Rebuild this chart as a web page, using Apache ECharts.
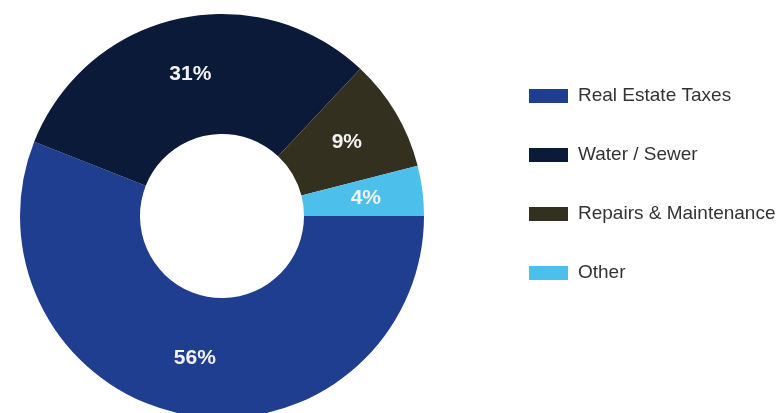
<!DOCTYPE html>
<html>
<head>
<meta charset="utf-8">
<script src="https://cdn.jsdelivr.net/npm/echarts@6/dist/echarts.min.js"></script>
<style>
  html, body { margin: 0; padding: 0; background: #ffffff; }
  #chart { width: 782px; height: 413px; }
</style>
</head>
<body>
<div id="chart"></div>
<script>
// Operating expense breakdown (share of total, %)
const categories = ['Real Estate Taxes', 'Water / Sewer', 'Repairs & Maintenance', 'Other'];
const shares = [56, 31, 9, 4];
const colors = ['#1f3e8f', '#0b1a38', '#34301f', '#4dbfeb'];

const chart = echarts.init(document.getElementById('chart'), null, { renderer: 'canvas' });

chart.setOption({
  animation: false,
  backgroundColor: '#ffffff',
  color: colors,
  legend: {
    orient: 'vertical',
    left: 524,
    top: 81,
    itemWidth: 39,
    itemHeight: 14,
    itemGap: 39,
    icon: 'rect',
    data: categories,
    textStyle: {
      fontFamily: 'Liberation Sans, Arial, sans-serif',
      fontSize: 19,
      lineHeight: 20,
      color: '#333333',
      padding: [0, 0, 0, 5]
    }
  },
  series: [{
    type: 'pie',
    center: [222, 216],
    radius: [82, 202],
    startAngle: 0,
    clockwise: true,
    avoidLabelOverlap: false,
    label: {
      show: true,
      position: 'inside',
      formatter: '{c}%',
      fontFamily: 'Liberation Sans, Arial, sans-serif',
      fontSize: 21,
      fontWeight: 'bold',
      color: '#f2f2f2'
    },
    labelLine: { show: false },
    emphasis: { disabled: true },
    data: categories.map((name, i) => ({ name: name, value: shares[i] }))
  }]
});
</script>
</body>
</html>
